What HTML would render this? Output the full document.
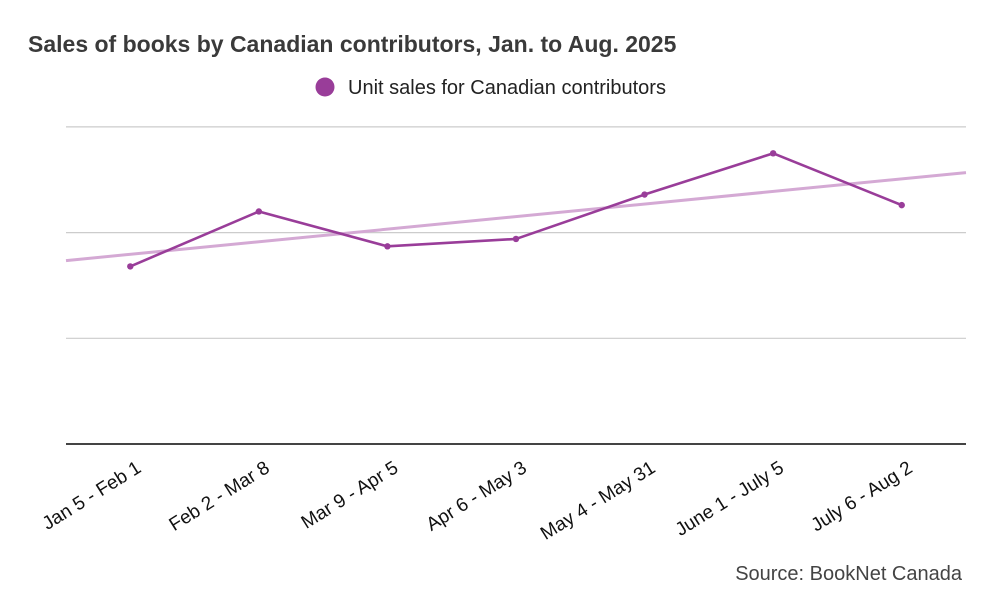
<!DOCTYPE html>
<html><head><meta charset="utf-8"><style>
body{margin:0;background:#fff;}
svg{display:block;font-family:"Liberation Sans",Arial,sans-serif;}
</style></head><body>
<svg width="991" height="607" viewBox="0 0 991 607">
<text x="28" y="52" font-size="23" font-weight="bold" fill="#3a3a3a">Sales of books by Canadian contributors, Jan. to Aug. 2025</text>
<g>
<circle cx="325" cy="87" r="9.5" fill="#993d99"/>
<text x="348" y="94" font-size="20" fill="#222">Unit sales for Canadian contributors</text>
</g>
<g id="grid"></g>
<g id="trend"></g>
<g id="series"></g>
<g id="xlabels"></g>
<text x="962" y="580" font-size="20" fill="#444" text-anchor="end">Source: BookNet Canada</text>
</svg>
<script>
const categories=["Jan 5 - Feb 1","Feb 2 - Mar 8","Mar 9 - Apr 5","Apr 6 - May 3","May 4 - May 31","June 1 - July 5","July 6 - Aug 2"];
const unitSales=[1.68,2.20,1.87,1.94,2.36,2.75,2.26];
const gridValues=[1,2,3];
const NS="http://www.w3.org/2000/svg";
const L=66,R=966,B=444,unit=105.7;
const band=(R-L)/categories.length;
const x=i=>L+band*(i+0.5);
const y=v=>B-v*unit;
function mk(t,a,p){const e=document.createElementNS(NS,t);for(const k in a)e.setAttribute(k,a[k]);p.appendChild(e);return e;}
const g=document.getElementById('grid');
gridValues.forEach(v=>{const l=mk('line',{x1:L,x2:R,y1:y(v),y2:y(v),stroke:'#ccc','stroke-width':1.2},g);

});
const ax=mk('line',{x1:L,x2:R,y1:B,y2:B,stroke:'#444','stroke-width':2},g);


const n=unitSales.length;const mi=(n-1)/2;const mv=unitSales.reduce((a,b)=>a+b,0)/n;
let num=0,den=0;unitSales.forEach((v,i)=>{num+=(i-mi)*(v-mv);den+=(i-mi)*(i-mi);});
const slope=num/den;const tv=i=>mv+slope*(i-mi);
const i0=(L-x(0))/band,i1=(R-x(0))/band;
const tr=mk('line',{x1:L,y1:y(tv(i0)),x2:R,y2:y(tv(i1)),stroke:'#d4a9d4','stroke-width':3},document.getElementById('trend'));


const s=document.getElementById('series');
const pl=mk('polyline',{points:unitSales.map((v,i)=>x(i)+','+y(v)).join(' '),fill:'none',stroke:'#993d99','stroke-width':2.6,'stroke-linejoin':'round'},s);


unitSales.forEach((v,i)=>{const c=mk('circle',{cx:x(i),cy:y(v),r:3.2,fill:'#993d99'},s);

});
const xl=document.getElementById('xlabels');
categories.forEach((c,i)=>{const tx=x(i)+12,ty=471;const t=mk('text',{x:tx,y:ty,'font-size':19,fill:'#111','text-anchor':'end',transform:`rotate(-32 ${tx} ${ty})`},xl);t.textContent=c;

});
</script>
</body></html>
